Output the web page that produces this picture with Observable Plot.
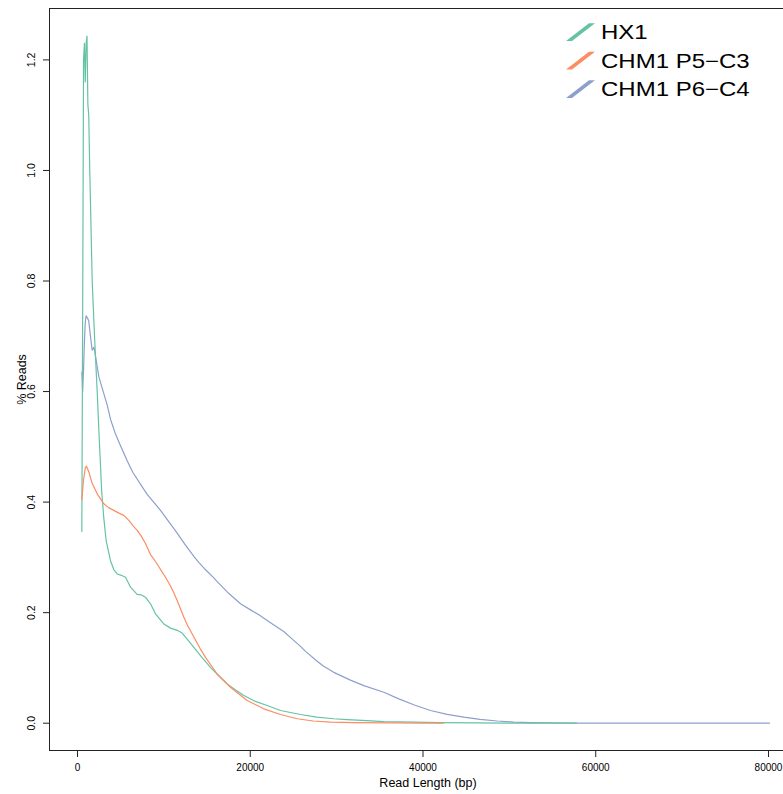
<!DOCTYPE html>
<html>
<head>
<meta charset="utf-8">
<script src="https://cdn.jsdelivr.net/npm/d3@7"></script>
<script src="https://cdn.jsdelivr.net/npm/@observablehq/plot@0.6"></script>
<style>
html, body { margin: 0; padding: 0; overflow: hidden; background: #fff; }
#chart { width: 806px; }
</style>
</head>
<body>
<div id="chart"></div>
<script>
// Series names and colours
const seriesNames = ["HX1", "CHM1 P5\u2212C3", "CHM1 P6\u2212C4"];
const seriesColors = ["#66C2A5", "#FC8D62", "#8DA0CB"];

// HX1
const hx1Length = [500, 600, 700, 800, 900, 1000, 1100, 1200, 1300, 1420, 1700, 2000, 2280, 2500, 2800, 3050, 3320, 3820, 4200, 4600, 5000, 5560, 6140, 6900, 7400, 7870, 8450, 9030, 9960, 10770, 11540, 12120, 12700, 13470, 14400, 15400, 16400, 17330, 18300, 19260, 20500, 21960, 23500, 25820, 27700, 29640, 31220, 33500, 35430, 38900, 42000, 46000, 50000, 54000, 57770];
const hx1Pct = [0.347, 0.75, 1.20, 1.23, 1.16, 1.23, 1.243, 1.12, 1.10, 1.00, 0.80, 0.69, 0.60, 0.52, 0.42, 0.37, 0.33, 0.294, 0.278, 0.270, 0.268, 0.264, 0.246, 0.233, 0.232, 0.228, 0.216, 0.198, 0.180, 0.172, 0.168, 0.163, 0.152, 0.137, 0.119, 0.101, 0.085, 0.071, 0.060, 0.050, 0.040, 0.032, 0.023, 0.0157, 0.011, 0.008, 0.0065, 0.0045, 0.003, 0.002, 0.0012, 0.0006, 0.0003, 0.0001, 0];

// CHM1 P5-C3
const p5Length = [500, 700, 900, 1040, 1300, 1700, 2280, 2700, 3050, 3600, 4200, 4800, 5360, 5940, 6400, 6910, 7400, 7870, 8450, 8830, 9220, 9700, 10190, 10700, 11150, 11540, 12300, 12700, 13470, 14200, 14820, 16170, 17140, 17710, 19640, 21570, 23500, 25430, 27300, 29270, 32000, 36000, 40000, 42370];
const p5Pct = [0.405, 0.44, 0.462, 0.465, 0.455, 0.434, 0.415, 0.405, 0.397, 0.390, 0.385, 0.380, 0.376, 0.367, 0.358, 0.349, 0.338, 0.325, 0.305, 0.297, 0.288, 0.276, 0.264, 0.250, 0.236, 0.222, 0.192, 0.178, 0.156, 0.135, 0.119, 0.089, 0.074, 0.065, 0.041, 0.026, 0.0157, 0.008, 0.004, 0.002, 0.001, 0.0004, 0.0001, 0];

// CHM1 P6-C4
const p6Length = [500, 600, 700, 800, 900, 1000, 1150, 1300, 1500, 1700, 1900, 2000, 2480, 3450, 3820, 4400, 4980, 5750, 6400, 7680, 8070, 9610, 10500, 11540, 12500, 13470, 14040, 14800, 15780, 16170, 17500, 18870, 20030, 21000, 21960, 23000, 23880, 24800, 25820, 26400, 27750, 28500, 29670, 31600, 33150, 35460, 37200, 39000, 40870, 42800, 44720, 46600, 48590, 50500, 52450, 55000, 57420, 60000, 70000, 80115];
const p6Pct = [0.635, 0.600, 0.640, 0.690, 0.725, 0.737, 0.733, 0.728, 0.700, 0.675, 0.680, 0.672, 0.626, 0.575, 0.550, 0.523, 0.502, 0.475, 0.454, 0.423, 0.414, 0.385, 0.366, 0.344, 0.322, 0.302, 0.291, 0.278, 0.263, 0.256, 0.235, 0.216, 0.205, 0.196, 0.186, 0.175, 0.166, 0.153, 0.139, 0.130, 0.112, 0.103, 0.092, 0.078, 0.068, 0.056, 0.044, 0.033, 0.023, 0.016, 0.011, 0.007, 0.004, 0.002, 0.001, 0.0004, 0.0001, 0, 0, 0];

// Axis ticks
const xTicks = [0, 20000, 40000, 60000, 80000];
const yTicks = [0, 0.2, 0.4, 0.6, 0.8, 1.0, 1.2];
const xDomain = [-3242, 84400];
const yDomain = [-0.0494, 1.293];

const toRows = (xs, ys, s) => xs.map((x, i) => ({ len: x, pct: ys[i], series: s }));
// drawing order: P6-C4, HX1, P5-C3
const rows = [
  ...toRows(p6Length, p6Pct, seriesNames[2]),
  ...toRows(hx1Length, hx1Pct, seriesNames[0]),
  ...toRows(p5Length, p5Pct, seriesNames[1])
];

const plot = Plot.plot({
  width: 806,
  height: 794,
  marginLeft: 49,
  marginRight: 0,
  marginTop: 8,
  marginBottom: 44,
  style: { fontFamily: "'Liberation Sans', Arial, sans-serif", fontSize: "10px", background: "white", maxWidth: "none", overflow: "visible" },
  x: { domain: xDomain },
  y: { domain: yDomain },
  color: { domain: seriesNames, range: seriesColors },
  marks: [
    Plot.frame({ stroke: "#222", strokeWidth: 1 }),
    Plot.axisX({ ticks: xTicks, tickSize: 7, tickPadding: 6, tickFormat: d3.format("d"), label: null, fontSize: 10, stroke: "#222" }),
    Plot.axisY({ ticks: yTicks, tickSize: 6, tickFormat: () => "", label: null, stroke: "#222" }),
    Plot.text(yTicks, { y: d => d, text: d => d3.format(".1f")(d), frameAnchor: "left", dx: -18, rotate: -90, textAnchor: "middle", lineAnchor: "middle", fontSize: 10.5 }),
    Plot.text(["Read Length (bp)"], { text: d => d, frameAnchor: "bottom", dy: 32, lineAnchor: "middle", fontSize: 12.5 }),
    Plot.text(["% Reads"], { text: d => d, frameAnchor: "left", dx: -28, rotate: -90, textAnchor: "middle", lineAnchor: "middle", fontSize: 12.5 }),
    Plot.line(rows, { x: "len", y: "pct", z: "series", stroke: "series", strokeWidth: 1.2 })
  ]
});

document.getElementById("chart").appendChild(plot);

// Legend (top right)
const svg = d3.select(plot);
const lg = svg.append("g")
  .attr("font-family", "'Liberation Sans', Arial, sans-serif")
  .attr("text-anchor", "start");
seriesNames.forEach((name, i) => {
  const dy = 28.5 * i;
  lg.append("polygon")
    .attr("points", `566,${41 + dy} 572,${41 + dy} 595,${23.3 + dy} 589,${23.3 + dy}`)
    .attr("fill", seriesColors[i]);
  lg.append("text")
    .attr("transform", `translate(601,${39 + dy}) scale(1.2,1)`)
    .attr("font-size", 20)
    .attr("text-anchor", "start")
    .attr("fill", "#000")
    .text(name);
});
</script>
</body>
</html>
